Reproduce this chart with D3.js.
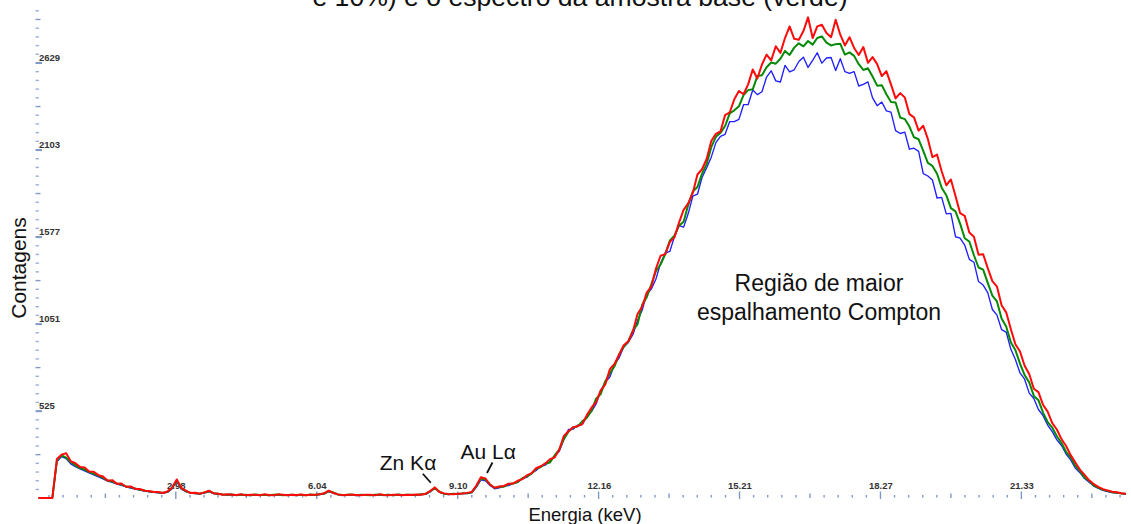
<!DOCTYPE html>
<html>
<head>
<meta charset="utf-8">
<script src="https://cdn.jsdelivr.net/npm/d3@7"></script>
<style>
  html, body { margin: 0; padding: 0; background: #fff; overflow: hidden; }
  svg { display: block; }
  text { font-family: "Liberation Sans", Arial, Helvetica, sans-serif; }
</style>
</head>
<body>
<svg id="chart" width="1131" height="524"></svg>
<script>
// Energy calibration of the spectra: channel i sits at start + i * width (keV)
const channelStartKeV = 0.0;
const channelWidthKeV = 0.1;

// Counts per channel, one array per spectrum
const countsBlue = [
  0,0,0,0,218,250,238,206,190,176,
  164,152,140,128,115,102,94,84,76,68,
  60,54,48,42,38,34,31,29,34,56,
  102,54,38,30,27,25,30,38,27,23,
  20,18,19,16,19,17,15,18,16,18,
  15,17,19,16,17,16,15,18,16,19,
  17,20,25,38,30,20,17,17,19,15,
  17,16,16,18,19,16,18,15,19,17,
  18,18,17,20,22,38,58,36,25,21,
  23,22,26,27,32,64,110,104,76,56,
  62,72,75,88,95,116,126,150,166,193,
  199,221,255,281,353,414,416,440,444,491,
  522,568,647,701,731,808,847,913,940,988,
  1073,1135,1232,1263,1324,1419,1480,1490,1578,1646,
  1637,1719,1825,1836,1937,1996,2060,2148,2186,2198,
  2275,2275,2288,2377,2377,2466,2438,2455,2544,2582,
  2521,2514,2615,2576,2588,2638,2664,2602,2645,2691,
  2628,2659,2662,2583,2655,2577,2566,2577,2490,2500,
  2515,2418,2371,2393,2340,2332,2220,2203,2211,2108,
  2114,2095,1960,1946,1922,1813,1817,1717,1720,1579,
  1571,1529,1442,1425,1308,1287,1241,1139,1105,1018,
  1003,900,837,756,718,634,601,535,498,441,
  401,351,317,266,230,181,153,118,96,72,
  58,46,39,33,30,26,22
];

const countsGreen = [
  0,0,0,0,228,258,244,216,199,181,
  172,158,146,135,121,106,100,88,81,70,
  65,57,50,46,40,37,33,31,38,60,
  108,58,41,31,29,26,33,41,29,25,
  21,20,22,17,21,18,16,21,18,20,
  16,19,21,17,18,19,16,20,17,21,
  18,23,27,41,33,21,18,19,21,16,
  19,18,17,19,21,17,20,16,21,18,
  19,20,18,22,24,40,62,38,26,23,
  25,24,28,29,34,70,118,112,82,60,
  68,68,84,87,96,120,131,147,177,187,
  208,215,257,292,356,400,426,433,463,485,
  527,600,628,706,753,796,869,913,946,1013,
  1050,1168,1214,1292,1372,1411,1472,1555,1586,1646,
  1670,1772,1852,1880,1960,2018,2120,2183,2207,2248,
  2325,2343,2367,2435,2465,2470,2550,2555,2603,2632,
  2625,2655,2702,2678,2722,2748,2730,2762,2740,2780,
  2790,2752,2735,2743,2745,2680,2693,2672,2622,2587,
  2597,2547,2492,2495,2440,2393,2390,2300,2290,2245,
  2180,2168,2098,2025,2007,1960,1875,1830,1752,1732,
  1658,1570,1550,1467,1393,1380,1300,1223,1188,1085,
  1037,942,894,812,743,699,617,591,516,459,
  425,373,332,279,246,194,163,123,104,75,
  63,49,43,35,32,28,24
];

const countsRed = [
  0,0,0,0,236,262,270,222,210,188,
  185,160,158,138,130,104,108,86,88,68,
  70,55,54,44,42,36,36,30,40,64,
  112,60,44,30,32,26,34,44,28,26,
  20,22,20,18,22,17,19,20,17,22,
  18,17,22,19,16,20,18,21,17,19,
  20,22,29,44,30,22,17,20,19,18,
  17,20,19,16,22,18,17,20,19,17,
  20,18,21,20,26,42,64,36,28,24,
  23,26,27,31,36,74,125,118,80,62,
  70,73,86,88,104,114,137,150,180,192,
  209,235,245,291,375,403,428,434,447,501,
  546,579,650,686,779,810,866,923,947,1008,
  1112,1156,1241,1278,1387,1464,1474,1547,1575,1664,
  1741,1781,1845,1955,1987,2049,2158,2201,2215,2314,
  2330,2410,2460,2440,2500,2590,2535,2620,2680,2645,
  2730,2690,2780,2850,2775,2770,2822,2905,2780,2850,
  2860,2810,2785,2890,2800,2735,2785,2720,2677,2725,
  2630,2665,2622,2550,2580,2500,2415,2447,2420,2320,
  2300,2220,2250,2170,2060,2075,1975,1890,1925,1825,
  1722,1705,1604,1579,1470,1473,1389,1311,1278,1165,
  1122,1022,929,885,799,749,660,640,563,522,
  452,414,356,314,259,215,172,140,107,84,
  67,53,46,38,35,29,25
];

// Axis ticks
const xTickValues = [2.98, 6.04, 9.10, 12.16, 15.21, 18.27, 21.33];
const xTickLabels = ["2.98", "6.04", "9.10", "12.16", "15.21", "18.27", "21.33"];
const yTickValues = [525, 1051, 1577, 2103, 2629];
const yTickLabels = ["525", "1051", "1577", "2103", "2629"];

// Fluorescence peaks that get a callout
const peakNames = ["Zn Kα", "Au Lα"];
const peakEnergies = [8.6, 9.7];
const peakCounts = [62, 118];

const titleLine = "e 10%) e o espectro da amostra base (verde)";
const xTitle = "Energia (keV)";
const yTitle = "Contagens";
const regionNote = ["Região de maior", "espalhamento Compton"];

const svg = d3.select("#chart");

const x = d3.scaleLinear().domain([0, 23.7]).range([38.5, 1130.6]);
const y = d3.scaleLinear().domain([0, 2629]).range([498, 63]);

const tickColor = "#7f98c6";

// Title (second line of a wrapped caption, running off the top edge)
svg.append("text")
  .attr("x", 580).attr("y", 6)
  .attr("text-anchor", "middle")
  .attr("font-size", 26.6)
  .attr("fill", "#111")
  .text(titleLine);

// ---- Y axis: dashed tick ladder ----
const yStep = (yTickValues[yTickValues.length - 1] - yTickValues[0]) / 40;
const yLadder = d3.range(-9, 47).map(k => ({ k, v: yTickValues[0] + k * yStep }));
svg.append("g").selectAll("line").data(yLadder).join("line")
  .attr("x1", 35.5)
  .attr("x2", d => d.k % 10 === 0 ? 42 : d.k % 5 === 0 ? 40.5 : 39)
  .attr("y1", d => y(d.v)).attr("y2", d => y(d.v))
  .attr("stroke", tickColor)
  .attr("stroke-width", d => d.k % 10 === 0 ? 2 : 1.4)
  .attr("opacity", d => d.k % 5 === 0 ? 1 : 0.75);

const yAxisG = svg.append("g")
  .attr("transform", "translate(39,0)")
  .call(d3.axisRight(y).tickValues(yTickValues)
    .tickFormat((d, i) => yTickLabels[i]).tickSize(0).tickPadding(0));
yAxisG.select(".domain").remove();
yAxisG.selectAll("text")
  .attr("dy", "-0.28em")
  .attr("font-size", 9.5)
  .attr("font-weight", "bold")
  .attr("font-family", "'Liberation Sans', Arial, sans-serif")
  .attr("fill", "#333");

// ---- X axis: dotted tick ladder ----
const xStep = (xTickValues[xTickValues.length - 1] - xTickValues[0]) / 60;
const xLadder = d3.range(-9, 68).map(k => ({ k, v: xTickValues[0] + k * xStep }))
  .filter(d => d.v > 0 && d.v < 23.7);
svg.append("g").selectAll("line").data(xLadder).join("line")
  .attr("x1", d => x(d.v)).attr("x2", d => x(d.v))
  .attr("y1", d => d.k % 10 === 0 ? 491.5 : d.k % 5 === 0 ? 493.5 : 495)
  .attr("y2", d => d.k % 10 === 0 ? 499 : d.k % 5 === 0 ? 498 : 497.5)
  .attr("stroke", tickColor)
  .attr("stroke-width", 1.4);

const xAxisG = svg.append("g")
  .attr("transform", "translate(0,492)")
  .call(d3.axisTop(x).tickValues(xTickValues)
    .tickFormat((d, i) => xTickLabels[i]).tickSize(0).tickPadding(3));
xAxisG.select(".domain").remove();
xAxisG.selectAll("text")
  .attr("font-size", 9.5)
  .attr("font-weight", "bold")
  .attr("font-family", "'Liberation Sans', Arial, sans-serif")
  .attr("fill", "#333");

// ---- Spectra ----
const line = d3.line()
  .x((d, i) => x(channelStartKeV + i * channelWidthKeV))
  .y(d => y(d));

const spectra = [
  { counts: countsBlue, color: "#1f1fff", width: 1.35 },
  { counts: countsGreen, color: "#068a06", width: 2.0 },
  { counts: countsRed, color: "#ff0a0a", width: 2.0 }
];
svg.append("g").selectAll("path").data(spectra).join("path")
  .attr("d", d => line(d.counts))
  .attr("fill", "none")
  .attr("stroke", d => d.color)
  .attr("stroke-width", d => d.width)
  .attr("stroke-linejoin", "round");

// ---- Axis titles ----
svg.append("text")
  .attr("transform", "translate(26,268) rotate(-90)")
  .attr("text-anchor", "middle")
  .attr("font-size", 21)
  .attr("fill", "#111")
  .text(yTitle);

svg.append("text")
  .attr("x", 585).attr("y", 521)
  .attr("text-anchor", "middle")
  .attr("font-size", 18.5)
  .attr("fill", "#111")
  .text(xTitle);

// ---- Peak callouts ----
const callouts = [
  { tx: -55, ty: -18, lx1: -12, ly1: -14, lx2: -4, ly2: -5 },
  { tx: -25, ty: -19, lx1: 7, ly1: -16, lx2: 1.5, ly2: -5.5 }
];
peakNames.forEach((name, i) => {
  const px = x(peakEnergies[i]), py = y(peakCounts[i]);
  const c = callouts[i];
  svg.append("text")
    .attr("x", px + c.tx).attr("y", py + c.ty)
    .attr("font-size", 21)
    .attr("fill", "#111")
    .text(name);
  svg.append("line")
    .attr("x1", px + c.lx1).attr("y1", py + c.ly1)
    .attr("x2", px + c.lx2).attr("y2", py + c.ly2)
    .attr("stroke", "#111").attr("stroke-width", 1.8);
});

// ---- Compton region note ----
svg.append("text")
  .attr("x", 819).attr("y", 291)
  .attr("text-anchor", "middle")
  .attr("font-size", 23)
  .attr("fill", "#111")
  .selectAll("tspan").data(regionNote).join("tspan")
  .attr("x", 819)
  .attr("dy", (d, i) => i === 0 ? 0 : 29)
  .text(d => d);
</script>
</body>
</html>
